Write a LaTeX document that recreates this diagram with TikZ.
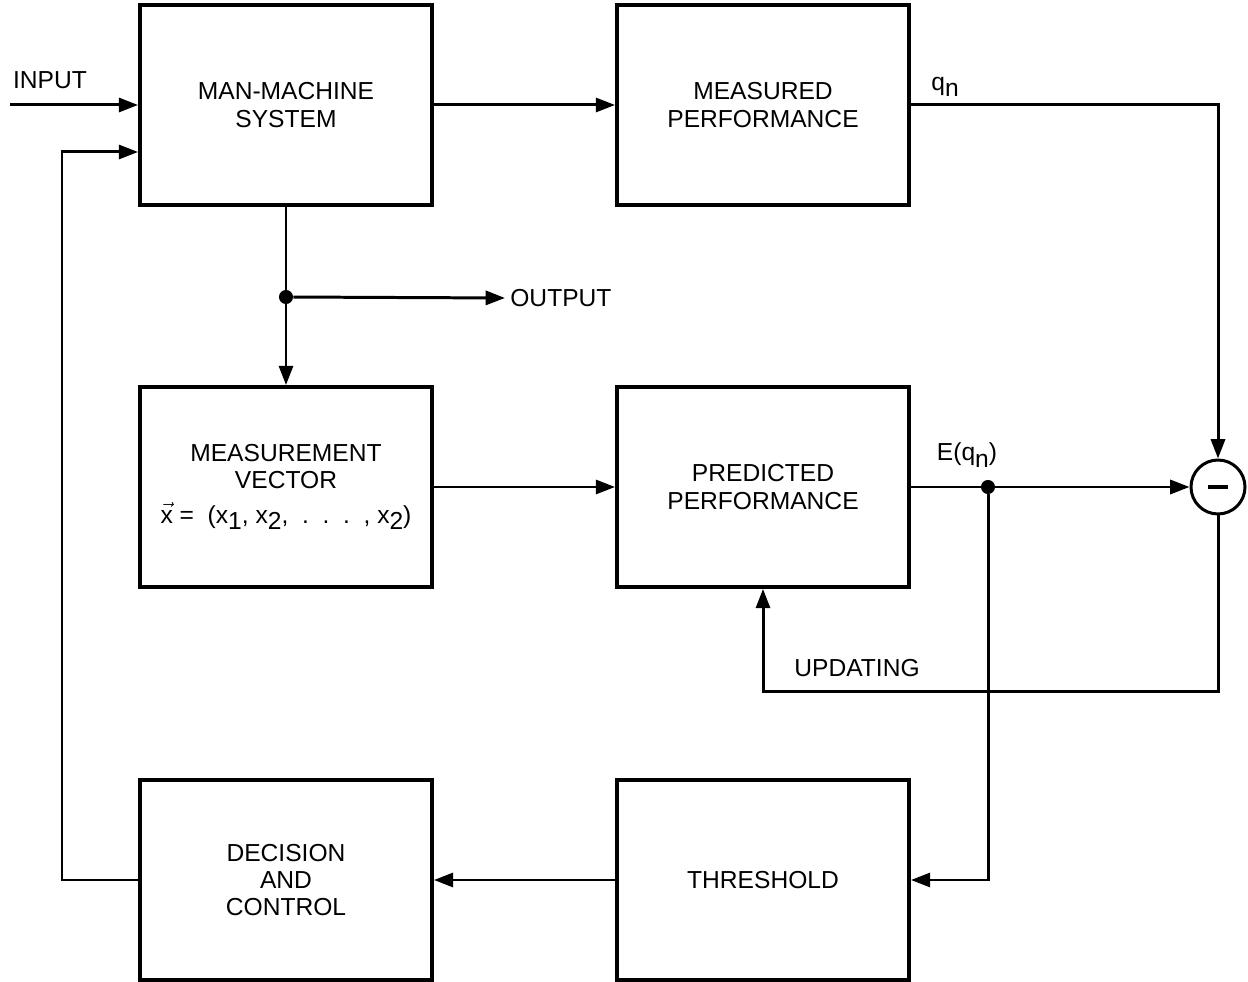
\documentclass[tikz,border=0pt]{standalone}
\usepackage{fontspec}
\setmainfont{Liberation Sans}
\usetikzlibrary{arrows.meta,positioning}
\newcommand\lowidx[1]{\raisebox{-0.5ex}{#1}}
\tikzset{
    box/.style={draw, line width=2.2pt, minimum width=5.84cm, minimum height=4cm,
        align=center, font=\fontsize{14}{15.5}\selectfont},
    link/.style={line width=1.7pt, -{Triangle[length=11pt,width=8pt]}},
    wire/.style={line width=1.7pt},
    dot/.style={circle, fill, inner sep=0pt, minimum size=8pt},
    sum/.style={circle, draw, line width=1.7pt, inner sep=0pt, minimum size=1.08cm},
    lbl/.style={font=\fontsize{14}{15.5}\selectfont, inner sep=0pt},
}
\begin{document}
\begin{tikzpicture}[x=0.02cm, y=-0.02cm]
    \useasboundingbox (0,0) rectangle (1248,982);
    % blocks
    \node[box] (mms)  at (286,105) {MAN-MACHINE\\SYSTEM};
    \node[box] (meas) at (763,105) {MEASURED\\PERFORMANCE};
    \node[box] (mvec) at (286,487) {MEASUREMENT\\VECTOR\\[4pt]
        $\vec{\mbox{x}}$ = \ (x\lowidx{1}, x\lowidx{2}, \ .\ \ .\ \ .\ \ , x\lowidx{2})};
    \node[box] (pred) at (763,487) {PREDICTED\\PERFORMANCE};
    \node[box] (dec)  at (286,880) {DECISION\\AND\\CONTROL};
    \node[box] (thr)  at (763,880) {THRESHOLD};
    \node[sum] (diff) at (1218,487) {};
    \draw[line width=2.6pt] ([xshift=-0.2cm]diff.center) -- ([xshift=0.2cm]diff.center);

    % labels
    \node[lbl] (inlbl) at (50,80) {INPUT};
    \node[lbl, anchor=west] (outlbl) at (510,298) {OUTPUT};
    \node[lbl] (qn) at (945,87) {q\lowidx{n}};
    \node[lbl] (eqn) at (967,455) {E(q\lowidx{n})};
    \node[lbl] (upd) at (857,668) {UPDATING};

    % junctions
    \node[dot] (j1) at (286,297) {};
    \node[dot] (j2) at (988,487) {};
    \coordinate (in) at (10,105);

    % connectors
    \draw[link] (in) -- (in -| mms.west);
    \draw[link] (dec.west) -| (62,152) -- (mms.west |- 62,152);
    \draw[link] (mms.east) -- (meas.west);
    \draw[link] (meas.east) -| (diff.north);
    \draw[wire] (mms.south) -- (j1);
    \draw[link] (j1) -- (mvec.north);
    \draw[link] (j1) -- ([xshift=-0.1cm]outlbl.west);
    \draw[link] (mvec.east) -- (pred.west);
    \draw[link] (pred.east) -- (diff.west);
    \draw[link] (diff.south) -- ++(0,176) -| (pred.south);
    \draw[link] (j2) |- (thr.east);
    \draw[link] (thr.west) -- (dec.east);
\end{tikzpicture}
\end{document}
